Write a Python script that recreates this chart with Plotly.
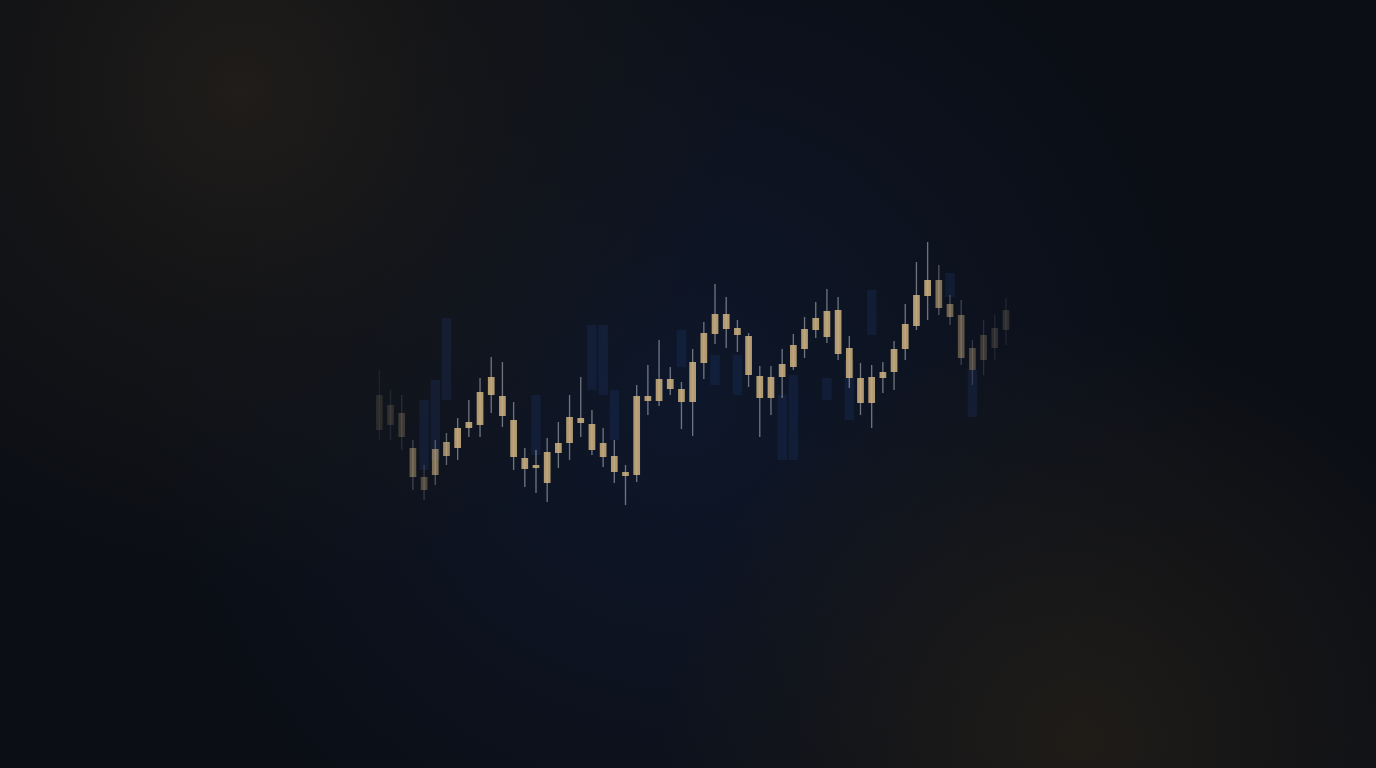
import base64
import plotly.graph_objects as go

# ---- data (price units) ----
idx = list(range(57))
high = [398, 378, 373, 328, 303, 328, 335, 350, 368, 390, 411, 406, 366, 320, 318, 330, 346, 373, 391, 358,
        340, 328, 303, 383, 403, 428, 401, 386, 419, 446, 484, 471, 448, 435, 402, 402, 419, 434, 451, 466,
        479, 471, 432, 405, 403, 406, 427, 464, 506, 526, 503, 473, 468, 428, 448, 453, 470]
low = [328, 328, 318, 278, 268, 283, 303, 308, 331, 331, 355, 341, 298, 281, 275, 266, 300, 308, 331, 313,
       301, 285, 263, 286, 353, 362, 373, 339, 332, 389, 424, 420, 416, 381, 331, 353, 370, 398, 410, 430,
       425, 408, 380, 353, 340, 375, 378, 408, 438, 448, 453, 443, 403, 383, 393, 408, 423]
open_ = [338, 363, 355, 320, 291, 293, 312, 320, 340, 343, 373, 372, 348, 310, 303, 285, 315, 325, 345, 344,
         325, 312, 296, 293, 367, 367, 379, 379, 366, 405, 434, 454, 440, 432, 392, 370, 391, 401, 419, 438,
         431, 458, 420, 390, 365, 390, 396, 419, 442, 472, 488, 464, 453, 420, 408, 420, 438]
close = [373, 343, 331, 291, 278, 319, 326, 340, 346, 376, 391, 352, 311, 299, 300, 316, 325, 351, 350, 318,
         311, 296, 292, 372, 372, 389, 389, 366, 406, 435, 454, 439, 433, 393, 370, 391, 404, 423, 439, 450,
         457, 414, 390, 365, 391, 396, 419, 444, 473, 488, 460, 451, 410, 398, 433, 440, 458]

# faint blue background bars
bg_idx = [4, 5, 6, 14, 19, 20, 21, 27, 30, 32, 36, 37, 40, 42, 44, 51, 53]
bg_top = [368, 388, 450, 373, 443, 443, 378, 438, 413, 413, 373, 393, 390, 408, 478, 495, 398]
bg_bot = [298, 308, 368, 313, 378, 373, 328, 401, 383, 373, 308, 308, 368, 348, 433, 471, 351]

# ---- styling ----
def fade(i):
    if i < 7:
        return [0.14, 0.18, 0.24, 0.45, 0.35, 0.6, 0.75][i]
    if i > 49:
        return max(0.18, 0.7 - 0.09 * (i - 49))
    return 0.88

body_base = [min(o, c) for o, c in zip(open_, close)]
body_h = [max(abs(c - o), 2) for o, c in zip(open_, close)]
wick_h = [h - l for h, l in zip(high, low)]
alphas = [fade(i) for i in idx]
body_cols = [f"rgba(201,174,125,{a:.2f})" for a in alphas]
wick_cols = [f"rgba(150,156,168,{a * 0.8:.2f})" for a in alphas]

fig = go.Figure()
fig.add_trace(go.Bar(x=bg_idx, base=bg_bot, y=[t - b for t, b in zip(bg_top, bg_bot)], width=0.85,
                     marker=dict(color="rgba(36,66,128,0.22)", line=dict(width=0)), hoverinfo="skip"))
fig.add_trace(go.Bar(x=idx, base=low, y=wick_h, width=0.12,
                     marker=dict(color=wick_cols, line=dict(width=0)), hoverinfo="skip"))
fig.add_trace(go.Bar(x=idx, base=body_base, y=body_h, width=0.6,
                     marker=dict(color=body_cols, line=dict(width=0)), hoverinfo="skip"))

svg = """<svg xmlns="http://www.w3.org/2000/svg" width="1376" height="768" viewBox="0 0 1376 768">
<defs>
<radialGradient id="c" cx="680" cy="400" r="540" gradientUnits="userSpaceOnUse">
<stop offset="0" stop-color="#0e172a"/><stop offset="1" stop-color="#0e172a" stop-opacity="0"/></radialGradient>
<radialGradient id="tl" cx="240" cy="90" r="500" gradientUnits="userSpaceOnUse">
<stop offset="0" stop-color="#201d1a"/><stop offset="0.55" stop-color="#191817" stop-opacity="0.5"/><stop offset="1" stop-color="#191817" stop-opacity="0"/></radialGradient>
<radialGradient id="br" cx="1080" cy="740" r="420" gradientUnits="userSpaceOnUse">
<stop offset="0" stop-color="#1f1c18"/><stop offset="1" stop-color="#1f1c18" stop-opacity="0"/></radialGradient>
</defs>
<rect width="1376" height="768" fill="#0b0e15"/>
<rect width="1376" height="768" fill="url(#c)"/>
<rect width="1376" height="768" fill="url(#tl)"/>
<rect width="1376" height="768" fill="url(#br)"/>
</svg>"""
src = "data:image/svg+xml;base64," + base64.b64encode(svg.encode()).decode()

fig.update_layout(
    width=1376, height=768, margin=dict(l=0, r=0, t=0, b=0),
    paper_bgcolor="#0b0e15", plot_bgcolor="rgba(0,0,0,0)",
    barmode="overlay", showlegend=False,
    xaxis=dict(visible=False, range=[-33.9, 89.07], fixedrange=True),
    yaxis=dict(visible=False, range=[0, 768], fixedrange=True),
    images=[dict(source=src, xref="paper", yref="paper", x=0, y=1, sizex=1, sizey=1,
                 xanchor="left", yanchor="top", sizing="stretch", layer="below")],
)
fig.write_html(
    "out.html",
    config={"displayModeBar": False},
    post_script="document.body.style.margin='0';document.body.style.overflow='hidden';"
                "document.body.style.background='#0b0e15';",
)
